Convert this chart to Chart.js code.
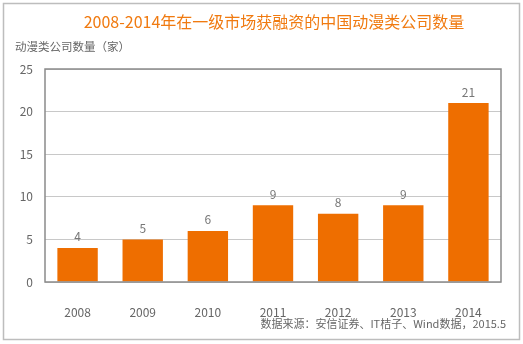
<!DOCTYPE html>
<html lang="zh">
<head>
<meta charset="UTF-8">
<title>动漫类公司数量</title>
<script src="https://cdn.jsdelivr.net/npm/chart.js"></script>
<style>
  html, body { margin: 0; padding: 0; background: #fff; }
  #wrap { width: 523px; height: 344px; position: relative; }
</style>
</head>
<body>
<div id="wrap"><canvas id="myChart"></canvas></div>
<script>
// 数据
var years = ['2008', '2009', '2010', '2011', '2012', '2013', '2014'];
var counts = [4, 5, 6, 9, 8, 9, 21];
var yTicks = [0, 5, 10, 15, 20, 25];

var titleText = '2008-2014年在一级市场获融资的中国动漫类公司数量';
var axisTitle = '动漫类公司数量（家）';
var sourceText = '数据来源：安信证券、IT桔子、Wind数据，2015.5';

var cjk = '"Noto Sans CJK SC", "Noto Sans", sans-serif';

// 边框、标题、数据标签
var decor = {
    id: 'decor',
    beforeDraw: function (chart) {
        var c = chart.ctx;
        c.save();
        c.fillStyle = '#fff';
        c.fillRect(0, 0, chart.width, chart.height);
        c.strokeStyle = '#bdbdbd';
        c.lineWidth = 1.5;
        c.strokeRect(3.5, 3.5, chart.width - 7, chart.height - 8);
        c.restore();
    },
    afterDraw: function (chart) {
        var c = chart.ctx, a = chart.chartArea;
        c.save();
        c.strokeStyle = '#8a8a8a';
        c.lineWidth = 1.5;
        c.strokeRect(a.left, a.top, a.right - a.left, a.bottom - a.top);

        c.textBaseline = 'middle';
        c.fillStyle = '#f07a10';
        c.font = '16px ' + cjk;
        c.textAlign = 'center';
        c.fillText(titleText, 274, 22);

        c.fillStyle = '#666';
        c.font = '11.5px ' + cjk;
        c.textAlign = 'left';
        c.fillText(axisTitle, 15, 47);

        c.font = '11px ' + cjk;
        c.textAlign = 'right';
        c.fillText(sourceText, 506, 324);

        var meta = chart.getDatasetMeta(0);
        c.font = '12px ' + cjk;
        c.textAlign = 'center';
        c.fillStyle = '#777';
        meta.data.forEach(function (bar, i) {
            c.fillText(counts[i], bar.x, bar.y - 11);
        });
        c.restore();
    }
};

new Chart(document.getElementById('myChart'), {
    type: 'bar',
    data: {
        labels: years,
        datasets: [{
            data: counts,
            backgroundColor: '#ee6e00',
            categoryPercentage: 1,
            barPercentage: 0.62
        }]
    },
    options: {
        responsive: true,
        maintainAspectRatio: false,
        animation: false,
        layout: { padding: { left: 0, top: 69, right: 22, bottom: 0 } },
        plugins: {
            legend: { display: false },
            tooltip: { enabled: false }
        },
        scales: {
            x: {
                grid: { display: false },
                border: { display: false },
                ticks: {
                    padding: 15,
                    color: '#666',
                    font: { family: cjk, size: 12 }
                },
                afterFit: function (s) { s.height = 62; }
            },
            y: {
                min: 0,
                max: 25,
                afterBuildTicks: function (s) {
                    s.ticks = yTicks.map(function (v) { return { value: v }; });
                },
                grid: { color: '#c8c8c8', lineWidth: 1, drawTicks: false },
                border: { display: false },
                ticks: {
                    padding: 12,
                    color: '#666',
                    font: { family: cjk, size: 12 }
                },
                afterFit: function (s) { s.width = 45; }
            }
        }
    },
    plugins: [decor]
});
</script>
</body>
</html>
